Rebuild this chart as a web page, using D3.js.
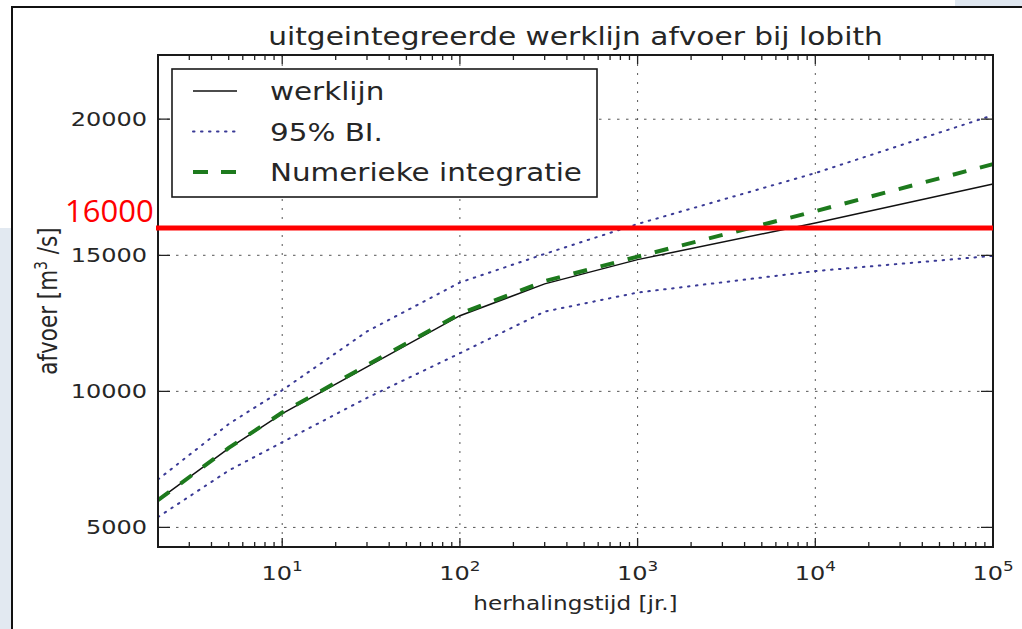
<!DOCTYPE html>
<html>
<head>
<meta charset="utf-8">
<script src="https://cdnjs.cloudflare.com/ajax/libs/d3/7.8.5/d3.min.js"></script>
<style>
	body { margin: 0; background: #fff; }
	svg { display: block; }
	text { font-family: 'DejaVu Sans', sans-serif; fill: #262626; }
</style>
</head>
<body>
<div id="chart"></div>
<script>
// herhalingstijd (jaren) en afvoer (m3/s)
var returnPeriods = [2, 5, 10, 30, 100, 300, 1000, 10000, 100000];
var werklijn      = [6000, 7900, 9180, 10900, 12780, 13950, 14840, 16190, 17620];
var upper95       = [6760, 8800, 10040, 12200, 14000, 15050, 16150, 18020, 20150];
var lower95       = [5380, 7090, 8130, 9760, 11400, 12930, 13630, 14420, 14980];
var numeriek      = [6000, 7920, 9220, 10960, 12850, 14050, 14950, 16620, 18350];

var seriesLabels = ['werklijn', '95% BI.', 'Numerieke integratie'];
var xTicks = [10, 100, 1000, 10000, 100000];
var yTicks = [5000, 10000, 15000, 20000];
var threshold = 16000;

var width = 1022;
var height = 629;
var plotLeft = 158, plotRight = 993, plotTop = 55, plotBottom = 547;
var stretch = 1.2; // matplotlib plaatje is in de slide breder getrokken

var svg = d3.select('#chart')
	.append('svg')
	.attr('width', width)
	.attr('height', height);

// slide achtergrond en kader
svg.append('rect').attr('x', 0).attr('y', 228).attr('width', 11).attr('height', height - 228).attr('fill', '#e2e9f1');
svg.append('rect').attr('x', 955).attr('y', 0).attr('width', 67).attr('height', 6).attr('fill', '#dfe7f0');
svg.append('path')
	.attr('d', 'M12,' + height + 'V7H' + width)
	.attr('fill', 'none')
	.attr('stroke', '#111')
	.attr('stroke-width', 2);

var x = d3.scaleLog().domain([2, 100000]).range([plotLeft, plotRight]);
var y = d3.scaleLinear().domain([4280, 22360]).range([plotBottom, plotTop]);

function stretchedText(px, py, str, size, anchor){
	return svg.append('text')
		.attr('transform', 'translate(' + px + ',' + py + ') scale(' + stretch + ',1)')
		.attr('text-anchor', anchor || 'start')
		.style('font-size', size + 'px')
		.text(str);
}

// grid
svg.selectAll('.xgrid')
	.data(xTicks.slice(0, -1))
	.enter()
	.append('line')
	.attr('x1', function(d){ return x(d); })
	.attr('x2', function(d){ return x(d); })
	.attr('y1', plotTop)
	.attr('y2', plotBottom)
	.attr('stroke', '#555')
	.attr('stroke-width', 1)
	.attr('stroke-dasharray', '2,7');

svg.selectAll('.ygrid')
	.data(yTicks)
	.enter()
	.append('line')
	.attr('x1', plotLeft)
	.attr('x2', plotRight)
	.attr('y1', function(d){ return y(d); })
	.attr('y2', function(d){ return y(d); })
	.attr('stroke', '#555')
	.attr('stroke-width', 1)
	.attr('stroke-dasharray', '2.5,6.5');

// lijnen
function lineFor(values){
	return d3.line()
		.x(function(d, i){ return x(returnPeriods[i]); })
		.y(function(d){ return y(d); })(values);
}

var blStyle = {stroke: '#3a3a96', width: 2, dash: '1.5,6.5', cap: 'round'};
var wlStyle = {stroke: '#111', width: 1.5, dash: null, cap: 'butt'};
var niStyle = {stroke: '#1d7a1d', width: 4, dash: '14,14', cap: 'butt'};

function drawSeries(values, st){
	svg.append('path')
		.attr('d', lineFor(values))
		.attr('fill', 'none')
		.attr('stroke', st.stroke)
		.attr('stroke-width', st.width)
		.attr('stroke-dasharray', st.dash)
		.attr('stroke-linecap', st.cap);
}
drawSeries(upper95, blStyle);
drawSeries(lower95, blStyle);
drawSeries(werklijn, wlStyle);
drawSeries(numeriek, niStyle);

// ticks (naar binnen, zoals oude matplotlib)
var minorTicks = [];
[1, 10, 100, 1000, 10000].forEach(function(dec){
	for (var m = 2; m <= 9; m++){
		var v = dec * m;
		if (v > 2 && v < 100000) minorTicks.push(v);
	}
});

function vTicks(data, len){
	svg.selectAll(null)
		.data(data)
		.enter()
		.append('path')
		.attr('d', function(d){
			return 'M' + x(d) + ',' + plotBottom + 'v' + (-len) + 'M' + x(d) + ',' + plotTop + 'v' + len;
		})
		.attr('stroke', '#222')
		.attr('stroke-width', 1.3);
}
vTicks(minorTicks, 5);
vTicks(xTicks, 9);

svg.selectAll('.ytick')
	.data(yTicks)
	.enter()
	.append('path')
	.attr('d', function(d){
		return 'M' + plotLeft + ',' + y(d) + 'h12M' + plotRight + ',' + y(d) + 'h-12';
	})
	.attr('stroke', '#222')
	.attr('stroke-width', 1.3);

// spines
svg.append('rect')
	.attr('x', plotLeft)
	.attr('y', plotTop)
	.attr('width', plotRight - plotLeft)
	.attr('height', plotBottom - plotTop)
	.attr('fill', 'none')
	.attr('stroke', '#1a1a1a')
	.attr('stroke-width', 2);

// legenda
var legend = svg.append('g');
legend.append('rect')
	.attr('x', 172)
	.attr('y', 69)
	.attr('width', 425)
	.attr('height', 128)
	.attr('fill', '#fff')
	.attr('stroke', '#1a1a1a')
	.attr('stroke-width', 1.6);

[wlStyle, blStyle, niStyle].forEach(function(st, i){
	var ly = 91 + i * 40.5;
	legend.append('line')
		.attr('x1', 193)
		.attr('x2', 237)
		.attr('y1', ly)
		.attr('y2', ly)
		.attr('stroke', st.stroke)
		.attr('stroke-width', st.width)
		.attr('stroke-dasharray', st.dash ? (i === 2 ? '15,13' : st.dash) : null)
		.attr('stroke-linecap', st.cap);
	stretchedText(270, ly + 9, seriesLabels[i], 24.5);
});

// drempel 16000 (toegevoegd in de slide)
svg.append('line')
	.attr('x1', 156)
	.attr('x2', plotRight)
	.attr('y1', y(threshold))
	.attr('y2', y(threshold))
	.attr('stroke', '#ff0000')
	.attr('stroke-width', 5);

svg.append('text')
	.attr('x', 65)
	.attr('y', y(threshold) - 6.5)
	.style('font-family', "'Open Sans', sans-serif")
	.style('font-size', '31px')
	.style('fill', '#ff0000')
	.text(d3.format('d')(threshold));

// as labels
yTicks.forEach(function(d){
	stretchedText(147, y(d) + 7, d3.format('d')(d), 20, 'end');
});

var xl = svg.selectAll('.xlabel')
	.data(xTicks)
	.enter()
	.append('text')
	.attr('transform', function(d){
		return 'translate(' + x(d) + ',580) scale(' + stretch + ',1)';
	})
	.attr('text-anchor', 'middle')
	.style('font-size', '20px');
xl.append('tspan').text('10');
xl.append('tspan')
	.attr('dy', -9)
	.style('font-size', '14px')
	.text(function(d){ return Math.round(Math.log10(d)); });

stretchedText((plotLeft + plotRight) / 2, 610, 'herhalingstijd [jr.]', 19.3, 'middle');

var yl = svg.append('text')
	.attr('transform', 'translate(57,' + ((plotTop + plotBottom) / 2) + ') scale(' + stretch + ',1) rotate(-90)')
	.attr('text-anchor', 'middle')
	.style('font-size', '21.5px');
yl.append('tspan').text('afvoer [m');
yl.append('tspan').attr('dy', -8).style('font-size', '14px').text('3');
yl.append('tspan').attr('dy', 8).text(' /s]');

stretchedText((plotLeft + plotRight) / 2, 45, 'uitgeintegreerde werklijn afvoer bij lobith', 24.7, 'middle');
</script>
</body>
</html>
